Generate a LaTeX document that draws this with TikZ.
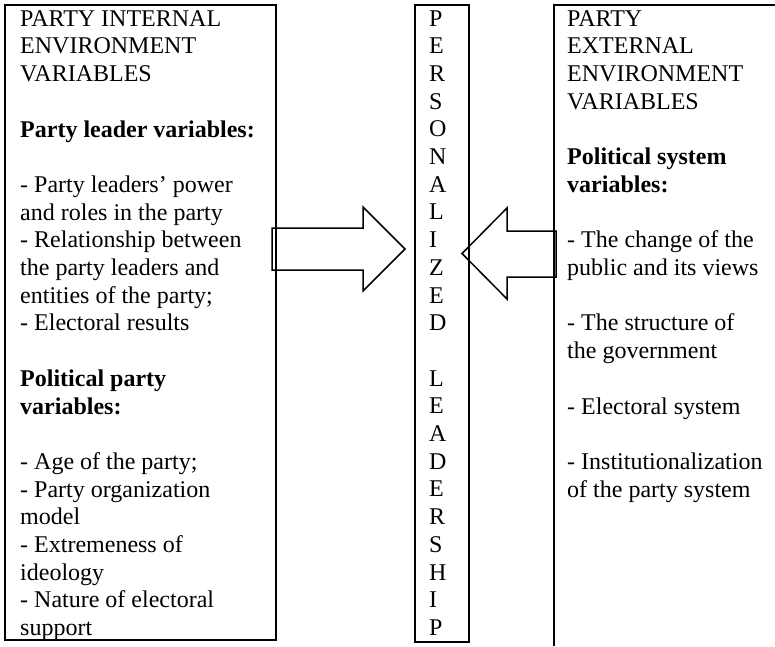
\documentclass[tikz,border=0pt]{standalone}
\usepackage{fontspec}
\setmainfont{Liberation Serif}
\begin{document}
\begin{tikzpicture}[x=1pt, y=-1pt,
  panel/.style={line width=1.5pt},
  txt/.style={anchor=north west, inner sep=0pt, align=left, font=\fontsize{24}{27.7}\selectfont},
  letter/.style={anchor=base west, inner sep=0pt, font=\fontsize{24}{27.7}\selectfont},
  blockarrow/.style={line width=1.5pt, line join=miter}]
  \useasboundingbox (0,0) rectangle (775,646);

  % boxes
  \draw[panel] (5,5) rectangle (276,640);
  \draw[panel] (415,5) rectangle (469,642);
  \draw[panel] (554,646) -- (554,5) -- (776,5);

  \node[txt] (inner) at (20,6.6) {\strut PARTY INTERNAL\\ENVIRONMENT\\VARIABLES\\[27.7pt]
    \textbf{Party leader variables:}\\[27.7pt]
    - Party leaders’ power\\and roles in the party\\- Relationship between\\the party leaders and\\entities of the party;\\- Electoral results\\[27.7pt]
    \textbf{Political party}\\\textbf{variables:}\\[27.7pt]
    - Age of the party;\\- Party organization\\model\\- Extremeness of\\ideology\\- Nature of electoral\\support};

  \node[txt] (outer) at (567,6.6) {\strut PARTY\\EXTERNAL\\ENVIRONMENT\\VARIABLES\\[27.7pt]
    \textbf{Political system}\\\textbf{variables:}\\[27.7pt]
    - The change of the\\public and its views\\[27.7pt]
    - The structure of\\the government\\[27.7pt]
    - Electoral system\\[27.7pt]
    - Institutionalization\\of the party system};

  % vertical word
  \foreach \c [count=\i from 0] in {P,E,R,S,O,N,A,L,I,Z,E,D}
    \node[letter] (p\i) at (429,{26+27.7*\i}) {\c};
  \foreach \c [count=\i from 13] in {L,E,A,D,E,R,S,H,I,P}
    \node[letter] (l\i) at (429,{26+27.7*\i}) {\c};

  % arrows
  \draw[blockarrow] (272,228) -- (363,228) -- (363,207) -- (405,249) -- (363,291) -- (363,270) -- (272,270) -- cycle;
  \draw[blockarrow] (556,231) -- (507,231) -- (507,208) -- (462,253.5) -- (507,299) -- (507,277) -- (556,277) -- cycle;
\end{tikzpicture}
\end{document}
